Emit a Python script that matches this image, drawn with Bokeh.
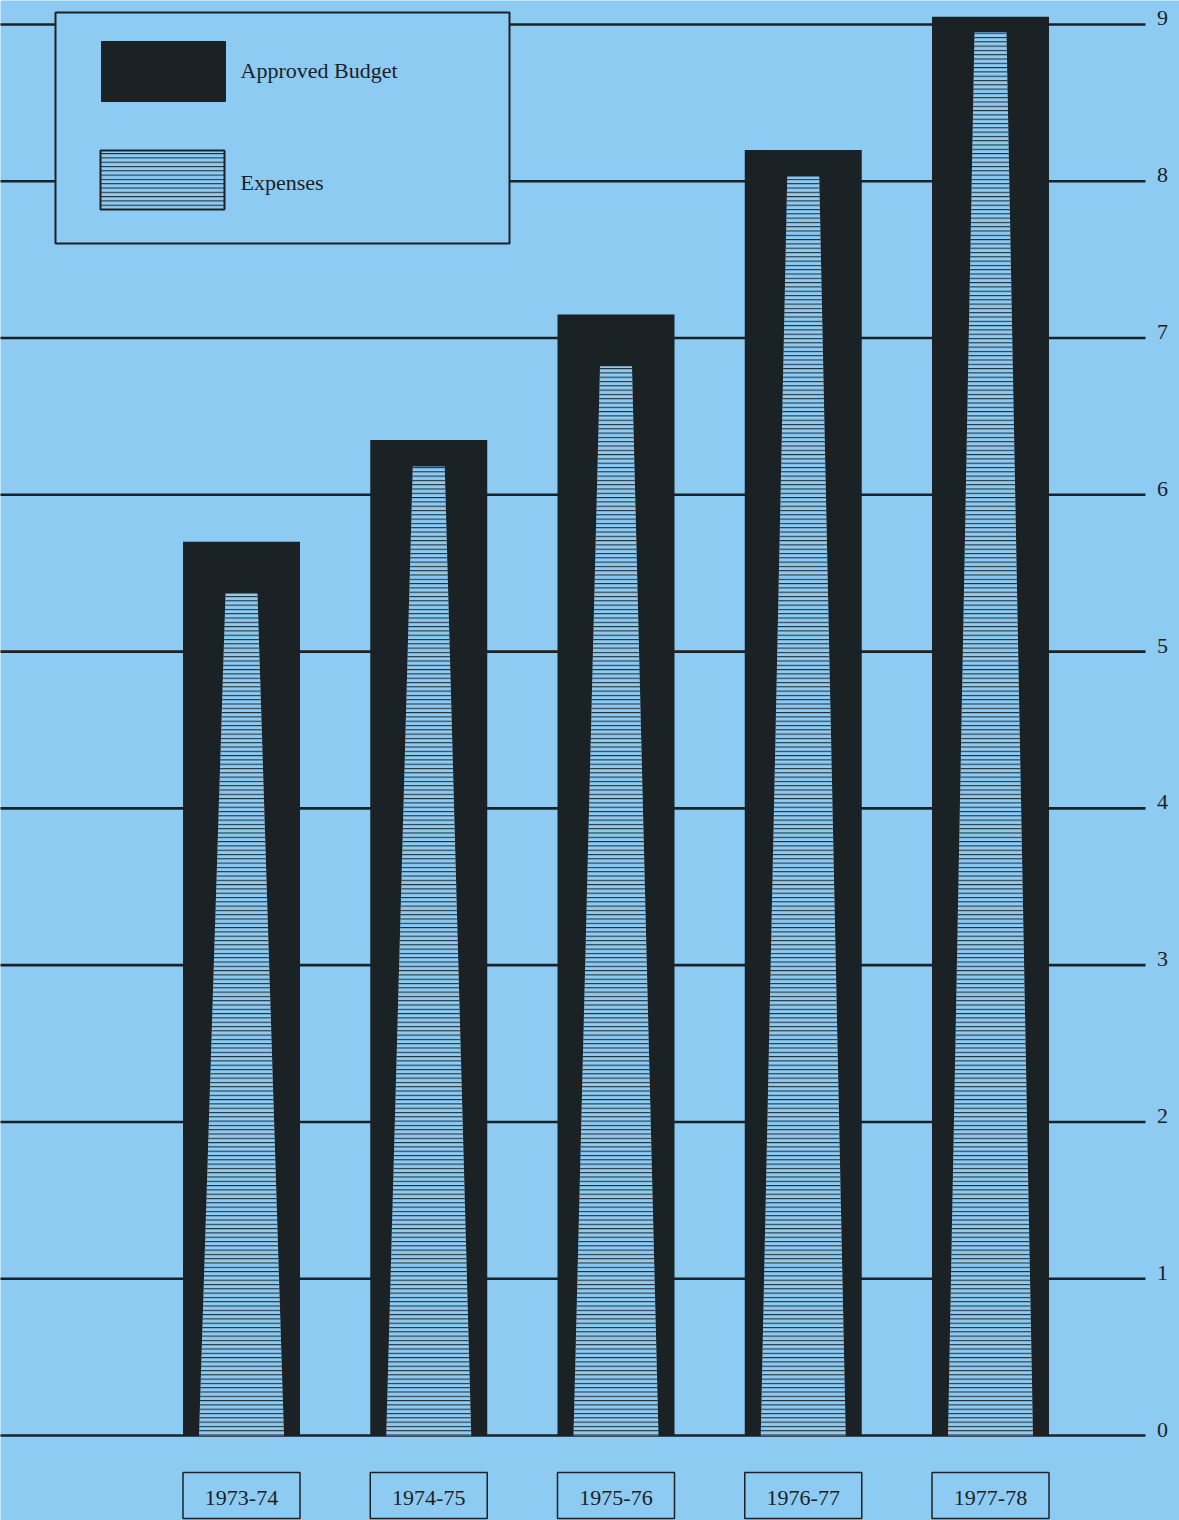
from bokeh.plotting import figure
from bokeh.models import Range1d, ColumnDataSource
from bokeh.core.properties import value
from bokeh.embed import file_html
from bokeh.resources import INLINE

# ---- data ----
years = ["1973-74", "1974-75", "1975-76", "1976-77", "1977-78"]
approved_budget = [5.70, 6.35, 7.15, 8.20, 9.05]
expenses = [5.37, 6.18, 6.82, 8.03, 8.95]
y_ticks = [0, 1, 2, 3, 4, 5, 6, 7, 8, 9]
y_tick_labels = ["0", "1", "2", "3", "4", "5", "6", "7", "8", "9"]
legend_labels = ["Approved Budget", "Expenses"]

# ---- style ----
BG = "#8ecbf3"
DARK = "#1b2226"
FONT = value("Liberation Serif")
W, H = 1179, 1520
X0_PX, DX_PX = 241.0, 187.25      # pixel of first category centre, px per category
Y0_PX, DY_PX = 1435.0, 156.78     # pixel of value 0, px per unit

def px_x(px):
    return (px - X0_PX) / DX_PX

def px_y(py):
    return (Y0_PX - py) / DY_PX

p = figure(width=W, height=H, output_backend="svg", toolbar_location=None,
           x_range=Range1d(px_x(0), px_x(W)), y_range=Range1d(px_y(H), px_y(0)),
           min_border=0, background_fill_color=BG, border_fill_color=BG)
p.axis.visible = False
p.grid.visible = False
p.outline_line_color = None

idx = list(range(len(years)))

# grid lines
p.segment(x0=[px_x(-5)] * len(y_ticks), x1=[px_x(1145)] * len(y_ticks),
          y0=y_ticks, y1=y_ticks, line_color=DARK, line_width=2.6)
# tick labels (right side, a little above the line)
p.text(x=[px_x(1162)] * len(y_ticks), y=y_ticks, text=y_tick_labels,
       text_font=FONT, text_font_size="22px", text_color=DARK,
       text_align="center", text_baseline="middle", y_offset=-6)

# legend box (covers grid lines)
p.quad(left=[px_x(55)], right=[px_x(509)], top=[px_y(12)], bottom=[px_y(243)],
       fill_color=BG, line_color=DARK, line_width=2)
p.quad(left=[px_x(101)], right=[px_x(225)], top=[px_y(41)], bottom=[px_y(101)],
       fill_color=DARK, line_color=DARK, line_width=1)
p.quad(left=[px_x(100)], right=[px_x(224)], top=[px_y(150)], bottom=[px_y(209)],
       fill_color=BG, line_color=DARK, line_width=2,
       hatch_pattern="-", hatch_color=DARK, hatch_scale=4.3, hatch_weight=1)
p.text(x=[px_x(240)] * 2, y=[px_y(70), px_y(182)], text=legend_labels,
       text_font=FONT, text_font_size="22px", text_color=DARK,
       text_align="left", text_baseline="middle")

# approved budget bars
bar_w = 117 / DX_PX
p.vbar(x=idx, top=approved_budget, bottom=0, width=bar_w,
       fill_color=DARK, line_color=None)

# expenses: tapered columns
half_bot = 85 / DX_PX / 2
half_top = 32 / DX_PX / 2
xs = [[i - half_bot, i - half_top, i + half_top, i + half_bot] for i in idx]
ys = [[0, e, e, 0] for e in expenses]
p.patches(xs=xs, ys=ys, fill_color=BG, line_color=None,
          hatch_pattern="-", hatch_color=DARK, hatch_scale=4.3, hatch_weight=1)

# category label boxes
p.rect(x=idx, y=[px_y(1495)] * len(idx), width=bar_w, height=46,
       height_units="screen", fill_color=None, line_color=DARK, line_width=1.5)
p.text(x=idx, y=[px_y(1497)] * len(idx), text=years,
       text_font=FONT, text_font_size="22px", text_color=DARK,
       text_align="center", text_baseline="middle")

open("out.html", "w").write(file_html(p, INLINE))
